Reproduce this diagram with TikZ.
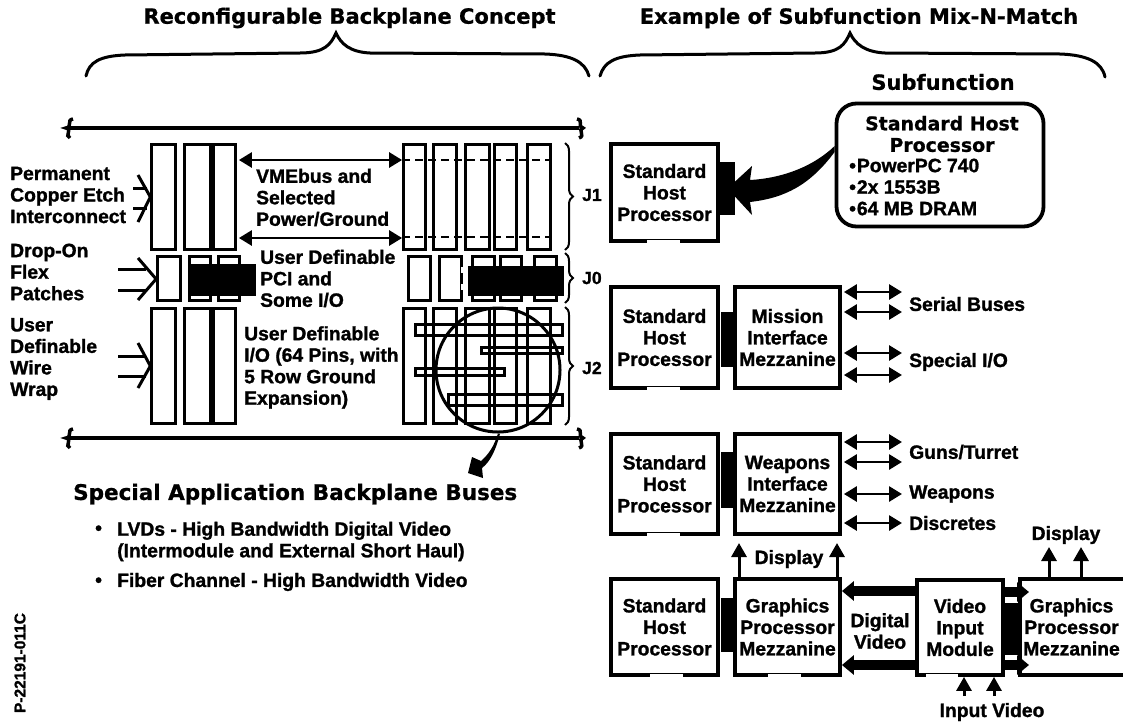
\documentclass[tikz,border=0pt]{standalone}
\usepackage{fontspec}
\setmainfont{Liberation Sans}[BoldFeatures={FakeBold=1.3}]
\newfontfamily\widefont{DejaVu Sans}[BoldFeatures={FakeBold=0.8}]
\usetikzlibrary{arrows.meta,calc,decorations.pathreplacing}
\newcommand{\boxfont}{\fontsize{19.3}{21.5}\selectfont\bfseries}
\newcommand{\capfont}{\widefont\fontsize{21}{21.5}\selectfont\bfseries}

\begin{document}
\begin{tikzpicture}[
x=1pt,y=-1pt,
slot/.style={draw,line width=2.8pt,inner sep=0pt},
wrapbar/.style={draw,line width=3pt,inner sep=0pt},
flex/.style={fill=black,inner sep=0pt},
hostbox/.style={draw,line width=3.8pt,align=center,font=\boxfont,inner sep=0pt},
lbl/.style={align=left,font=\boxfont,inner sep=0pt,anchor=west},
clbl/.style={align=center,font=\boxfont,inner sep=0pt},
headlbl/.style={align=center,font=\capfont,inner sep=0pt},
rail/.style={line width=3.5pt},
curly/.style={line width=3pt,line cap=round},
jbrace/.style={line width=2pt,decorate,decoration={brace,amplitude=8pt}},
bus/.style={{Triangle[length=13pt,width=15pt]}-{Triangle[length=13pt,width=15pt]},line width=2.8pt,shorten <=2pt},
uparrow/.style={-{Triangle[length=14pt,width=15pt]},line width=3pt},
fat/.style={-{Triangle[length=12pt,width=19pt]},line width=9.5pt},
etch/.style={line width=3pt},
gapline/.style={white,line width=6pt},
conblock/.style={fill=black,inner sep=0pt}
]
\useasboundingbox (0,0) rectangle (1123,723);

% titles and brackets
\node[headlbl] (ttl) at (349.5,18) {Reconfigurable Backplane Concept};
\node[headlbl] (ttr) at (859,18) {Example of Subfunction Mix-N-Match};
\draw[curly] (86,76) .. controls (89,62) and (100,56) .. (125,55) -- (300,53)
  .. controls (325,53) and (331,44) .. (336,33) .. controls (341,44) and (350,52) .. (370,53)
  -- (545,54) .. controls (572,55) and (585,62) .. (589,76);
\draw[curly] (600,76) .. controls (604,62) and (615,56) .. (640,55) -- (815,53)
  .. controls (840,53) and (845,44) .. (850,33) .. controls (855,44) and (865,52) .. (885,53)
  -- (1060,54) .. controls (1087,55) and (1102,62) .. (1105,77);

% rails
\draw[rail] (73,119) .. controls (66,120) and (73,127) .. (66,128) .. controls (73,129) and (64,136) .. (70,138);
\draw[rail] (66,128) -- (579,128);
\draw[rail] (577,119) .. controls (584,120) and (577,127) .. (583,128) .. controls (577,129) and (586,136) .. (579,138);
\draw[rail] (73,429) .. controls (66,430) and (73,437) .. (66,438) .. controls (73,439) and (64,446) .. (70,448);
\draw[rail] (66,438) -- (579,438);
\draw[rail] (577,429) .. controls (584,430) and (577,437) .. (583,438) .. controls (577,439) and (586,446) .. (579,448);

% J1 and J2 slots
\foreach \n/\xc/\w in {a/163.5/23.5,b/197.5/26,c/224.5/22,d/414.5/22,e/445/23,f/477.5/24,g/505.5/22,h/539/23}{
  \node[slot,minimum width=\w pt,minimum height=105pt] (jt\n) at (\xc,197) {};
  \node[slot,minimum width=\w pt,minimum height=115pt] (jb\n) at (\xc,366) {};
}
% J0 slots
\foreach \n/\xc/\w in {a/169/23,b/200/21,c/229/21,d/419.5/22,e/450.5/22,f/483.5/22,g/511/21,h/545.5/22}{
  \node[slot,minimum width=\w pt,minimum height=44pt] (jm\n) at (\xc,278.5) {};
}
\draw[white,line width=3.6pt,dash pattern=on 0pt off 12pt on 6pt off 11pt on 6pt off 20pt] (jme.north east) -- (jme.south east);
\node[flex,minimum width=68pt,minimum height=32pt] (patl) at (222,280) {};
\node[flex,minimum width=96pt,minimum height=30pt] (patr) at (516,281) {};

% wire wrap
\node[wrapbar,minimum width=147pt,minimum height=11pt] (wa) at (489,330) {};
\node[wrapbar,minimum width=81pt,minimum height=6.5pt] (wb) at (522,350.5) {};
\node[wrapbar,minimum width=89pt,minimum height=7pt] (wc) at (460,372) {};
\node[wrapbar,minimum width=114pt,minimum height=11pt] (wd) at (505.5,400) {};
\node[draw,circle,line width=3pt,minimum size=124pt,inner sep=0pt] (lens) at (498,370) {};
\fill (lens.south) .. controls (494,446) and (489,454) .. (481,461) -- (472,457) -- (468,473) -- (483,478)
  -- (482,468) .. controls (490,462) and (496,450) .. ($(lens.south)+(2,0)$) -- cycle;

% etch dashes and buses
\draw[line width=2.6pt,dash pattern=on 8pt off 5pt] (jtd.west |- 0,160) -- (jth.east |- 0,160);
\draw[line width=2.6pt,dash pattern=on 8pt off 5pt] (jtd.west |- 0,237) -- (jth.east |- 0,237);
\draw[bus] (jtc.east |- 0,160) -- (jtd.west |- 0,160);
\draw[bus] (jtc.east |- 0,238) -- (jtd.west |- 0,238);

% braces
\draw[jbrace] (565,143) -- (565,250);
\draw[jbrace] (565,253) -- (565,303);
\draw[jbrace] (565,307) -- (565,425);
\node[lbl] (j1) at (582,195) {\fontsize{17.5}{20}\selectfont J1};
\node[lbl] (j0) at (582,278) {\fontsize{17.5}{20}\selectfont J0};
\node[lbl] (j2) at (582,368) {\fontsize{17.5}{20}\selectfont J2};

% left labels and open arrows
\node[lbl] (perm) at (10,195) {Permanent\\Copper Etch\\Interconnect};
\node[lbl] (drop) at (10,272) {Drop-On\\Flex\\Patches};
\node[lbl] (wire) at (10,359) {User\\Definable\\Wire\\Wrap};
\draw[etch] (133,188) -- (147,188);
\draw[etch] (133,208) -- (147,208);
\draw[etch] (138,175) -- (jta.west |- 0,197) -- (138,222);
\draw[etch] (118,269) -- (146,269);
\draw[etch] (118,290) -- (146,290);
\draw[etch] (138,258) -- (jma.west |- 0,279) -- (138,300);
\draw[etch] (118,356) -- (146,356);
\draw[etch] (118,376) -- (146,376);
\draw[etch] (138,343) -- (jba.west |- 0,366) -- (138,388);

% centre labels
\node[lbl] (vme) at (256,197.5) {VMEbus and\\Selected\\Power/Ground};
\node[lbl] (pci) at (260,278.5) {User Definable\\PCI and\\Some I/O};
\node[lbl] (uio) at (244,367.5) {User Definable\\I/O (64 Pins, with\\5 Row Ground\\Expansion)};

% special buses
\node[headlbl,anchor=west,font=\widefont\fontsize{21.5}{21.5}\selectfont\bfseries] (spc) at (73,494) {Special Application Backplane Buses};
\node[lbl] (bla) at (95,530) {\textbullet};
\node[lbl] (lvd) at (117,541.5) {\baselineskip=23pt LVDs - High Bandwidth Digital Video\\(Intermodule and External Short Haul)};
\node[lbl] (blb) at (95,582) {\textbullet};
\node[lbl] (fib) at (117,582) {Fiber Channel - High Bandwidth Video};
\node[rotate=90,font=\fontsize{15.5}{18}\selectfont\bfseries,inner sep=0pt] (pno) at (20,663) {P-22191-011C};

% subfunction callout
\node[headlbl] (sub) at (943,82) {Subfunction};
\node[draw,rounded corners=20pt,line width=3.8pt,minimum width=207pt,minimum height=123pt,inner sep=0pt] (call) at (940,165) {};
\node[headlbl,font=\widefont\fontsize{18.9}{21.5}\selectfont\bfseries] (calt) at (942,134) {Standard Host\\Processor};
\node[lbl] (calb) at (849,187) {\textbullet\hspace{1pt}PowerPC 740\\\textbullet\hspace{1pt}2x 1553B\\\textbullet\hspace{1pt}64 MB DRAM};

% host boards
\node[hostbox,minimum width=107pt,minimum height=97pt] (hosta) at (664.5,192.5) {Standard\\Host\\Processor};
\node[hostbox,minimum width=107pt,minimum height=101pt] (hostb) at (664.5,337.5) {Standard\\Host\\Processor};
\node[hostbox,minimum width=107pt,minimum height=100pt] (hostc) at (664.5,484) {Standard\\Host\\Processor};
\node[hostbox,minimum width=107pt,minimum height=96pt] (hostd) at (664.5,627) {Standard\\Host\\Processor};
\node[hostbox,minimum width=105pt,minimum height=101pt] (mis) at (787.5,337.5) {Mission\\Interface\\Mezzanine};
\node[hostbox,minimum width=105pt,minimum height=100pt] (wpn) at (787.5,484) {Weapons\\Interface\\Mezzanine};
\node[hostbox,minimum width=105pt,minimum height=96pt] (gfx) at (787.5,627) {Graphics\\Processor\\Mezzanine};
\node[hostbox,minimum width=86pt,minimum height=95pt] (vid) at (960,627.5) {Video\\Input\\Module};
\node[clbl,minimum width=103pt,minimum height=96pt] (gfxb) at (1071.5,627) {Graphics\\Processor\\Mezzanine};
\draw[line width=3.8pt] (gfxb.north east) -- (gfxb.north west) -- (gfxb.south west) -- (gfxb.south east);

% cut-outs in the lower edges
\draw[gapline] ($(hosta.south west)+(38,0)$) -- +(33,0);
\draw[gapline] ($(hostb.south west)+(38,0)$) -- +(33,0);
\draw[gapline] ($(hostc.south west)+(38,0)$) -- +(33,0);
\draw[gapline] ($(hostd.south west)+(41,0)$) -- +(33,0);
\draw[gapline] ($(gfx.south west)+(35,0)$) -- +(33,0);
\draw[gapline] ($(vid.south west)+(11,0)$) -- +(32,0);

% mezzanine connectors
\node[conblock,minimum width=15pt,minimum height=53pt] (cona) at (727.5,188.5) {};
\node[conblock,minimum height=55pt,minimum width=12pt] (conb) at (726.5,339.5) {};
\node[conblock,minimum height=56pt,minimum width=12pt] (conc) at (726.5,480) {};
\node[conblock,minimum height=54pt,minimum width=12pt] (cond) at (726.5,625) {};

% callout arrow
\fill (cona.center) -- (752,166) -- (750,180) .. controls (785,178) and (815,165) .. (call.west |- 0,146)
  -- (call.west |- 0,152) .. controls (810,185) and (785,198) .. (750,202) -- (752,215) -- cycle;

% external buses
\coordinate (sera) at (902,292);
\coordinate (serb) at (902,312);
\coordinate (spea) at (902,353);
\coordinate (speb) at (902,375);
\coordinate (guna) at (902,442);
\coordinate (gunb) at (902,462);
\coordinate (wpna) at (902,494);
\coordinate (disc) at (902,523);
\draw[bus] (mis.east |- sera) -- (sera);
\draw[bus] (mis.east |- serb) -- (serb);
\draw[bus] (mis.east |- spea) -- (spea);
\draw[bus] (mis.east |- speb) -- (speb);
\draw[bus] (wpn.east |- guna) -- (guna);
\draw[bus] (wpn.east |- gunb) -- (gunb);
\draw[bus] (wpn.east |- wpna) -- (wpna);
\draw[bus] (wpn.east |- disc) -- (disc);
\node[lbl] (serl) at (909,304) {Serial Buses};
\node[lbl] (spel) at (909,362) {Special I/O};
\node[lbl] (gunl) at (909,452) {Guns/Turret};
\node[lbl] (wpnl) at (909,494) {Weapons};
\node[lbl] (disl) at (909,523) {Discretes};

% display outputs
\coordinate (dspa) at (739,543);
\coordinate (dspb) at (837,543);
\coordinate (dspc) at (1049,547);
\coordinate (dspd) at (1081,547);
\draw[uparrow] (gfx.north -| dspa) -- (dspa);
\draw[uparrow] (gfx.north -| dspb) -- (dspb);
\draw[uparrow] (gfxb.north -| dspc) -- (dspc);
\draw[uparrow] (gfxb.north -| dspd) -- (dspd);
\node[clbl] (dspl) at (789,559) {Display};
\node[clbl] (dspr) at (1066,535) {Display};

% digital video
\coordinate (vida) at (vid.west |- 0,591);
\coordinate (vidb) at (vid.west |- 0,665);
\draw[fat] (vida) -- (gfx.east |- vida);
\draw[fat] (vidb) -- (gfx.east |- vidb);
\node[clbl] (dig) at (880,631) {Digital\\Video};
\node[conblock,minimum width=18pt,minimum height=52pt] (conv) at (1011,629) {};
\coordinate (tipa) at (1029,592);
\coordinate (tipb) at (1029,665);
\draw[fat] (vid.east |- tipa) -- (tipa);
\draw[fat] (vid.east |- tipb) -- (tipb);

% input video
\node[clbl] (inl) at (992,712) {Input Video};
\coordinate (ina) at (964,696);
\coordinate (inb) at (994,696);
\draw[uparrow] (ina) -- (vid.south -| ina);
\draw[uparrow] (inb) -- (vid.south -| inb);
\end{tikzpicture}
\end{document}
